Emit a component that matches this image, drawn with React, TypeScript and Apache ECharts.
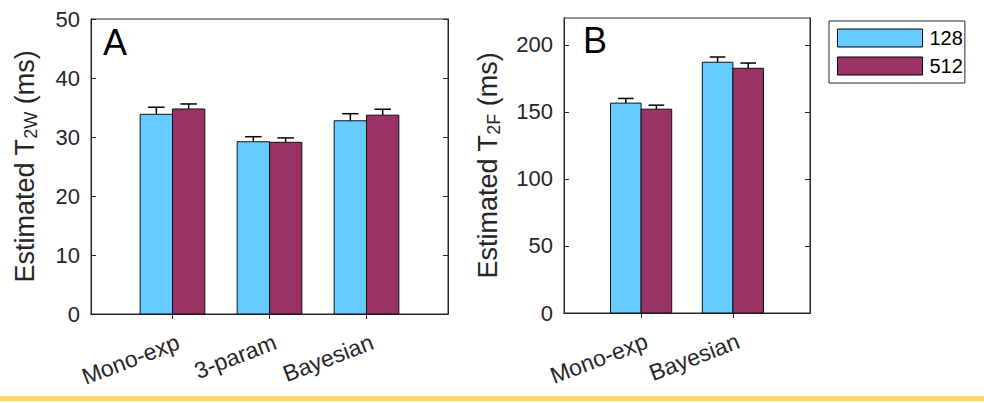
import React, { useEffect, useRef } from "react";
import * as echarts from "echarts";

const categoriesA = ["Mono-exp", "3-param", "Bayesian"];
const categoriesB = ["Mono-exp", "Bayesian"];
const seriesNames = ["128", "512"];
const a128 = [33.85, 29.2, 32.75];
const a128Err = [1.2, 0.85, 1.2];
const a512 = [34.75, 29.1, 33.7];
const a512Err = [0.85, 0.75, 1.0];
const b128 = [156.5, 187];
const b128Err = [3.5, 3.9];
const b512 = [152, 182.5];
const b512Err = [3.0, 3.9];
const yTicksA = [0, 10, 20, 30, 40, 50];
const yTicksB = [0, 50, 100, 150, 200];

const FONT = "Liberation Sans, Arial, Helvetica, sans-serif";
const AXIS = "#262626";
const COLORS = ["#66CCFF", "#993366"];

function makeRender(side: number, color: string) {
  return (params: any, api: any) => {
    const x = api.value(0);
    const v = api.value(1);
    const e = api.value(2);
    const x0 = side === 0 ? x - 1 / 3 : x;
    const x1 = side === 0 ? x : x + 1 / 3;
    const xm = (x0 + x1) / 2;
    const tl = api.coord([x0, v]);
    const br = api.coord([x1, 0]);
    const top = api.coord([xm, v + e]);
    const capL = api.coord([xm - 0.085, v + e]);
    const capR = api.coord([xm + 0.085, v + e]);
    return {
      type: "group",
      children: [
        {
          type: "line",
          shape: { x1: top[0], y1: tl[1], x2: top[0], y2: top[1] },
          style: { stroke: "#000", lineWidth: 1.5 },
        },
        {
          type: "line",
          shape: { x1: capL[0], y1: top[1], x2: capR[0], y2: top[1] },
          style: { stroke: "#000", lineWidth: 1.5 },
        },
        {
          type: "rect",
          shape: { x: tl[0], y: tl[1], width: br[0] - tl[0], height: br[1] - tl[1] },
          style: { fill: color, stroke: "#111", lineWidth: 1 },
        },
      ],
    };
  };
}

function xAxes(gridIndex: number, cats: string[]) {
  const max = cats.length + 0.84;
  const ticks = cats.map((_, i) => i + 1);
  const common = {
    type: "value",
    gridIndex,
    min: 0.16,
    max,
    splitLine: { show: false },
    axisLine: { show: true, lineStyle: { color: AXIS, width: 1 } },
    axisTick: { show: true, inside: true, length: 5, customValues: ticks, lineStyle: { color: AXIS } },
  };
  return [
    {
      ...common,
      position: "bottom",
      axisLabel: {
        show: true,
        customValues: ticks.map((t) => t + 0.06),
        formatter: (val: number) => cats[Math.round(val) - 1] ?? "",
        rotate: 21,
        margin: 27,
        fontSize: 23,
        color: AXIS,
        fontFamily: FONT,
      },
    },
    { ...common, position: "top", axisLabel: { show: false } },
  ];
}

function yAxes(gridIndex: number, max: number, ticks: number[], sub: string, gap: number) {
  const common = {
    type: "value",
    gridIndex,
    min: 0,
    max,
    splitLine: { show: false },
    axisLine: { show: true, lineStyle: { color: AXIS, width: 1 } },
    axisTick: { show: true, inside: true, length: 5, customValues: ticks, lineStyle: { color: AXIS } },
  };
  return [
    {
      ...common,
      position: "left",
      axisLabel: {
        show: true,
        customValues: ticks,
        margin: 11,
        fontSize: 22,
        color: AXIS,
        fontFamily: FONT,
      },
      name: `{n|Estimated T}{s|${sub}}{n| (ms)}`,
      nameLocation: "middle",
      nameRotate: 90,
      nameGap: gap,
      nameTextStyle: {
        rich: {
          n: { fontSize: 27, lineHeight: 30, color: AXIS, fontFamily: FONT },
          s: { fontSize: 18, lineHeight: 12, verticalAlign: "bottom", color: AXIS, fontFamily: FONT },
        },
      },
    },
    { ...common, position: "right", axisLabel: { show: false } },
  ];
}

function seriesFor(gridIdx: number, v128: number[], e128: number[], v512: number[], e512: number[]) {
  const xi = gridIdx * 2;
  const yi = gridIdx * 2;
  return [
    {
      type: "custom",
      name: seriesNames[0],
      xAxisIndex: xi,
      yAxisIndex: yi,
      itemStyle: { color: COLORS[0] },
      encode: { x: 0, y: 1 },
      data: v128.map((v, i) => [i + 1, v, e128[i]]),
      renderItem: makeRender(0, COLORS[0]),
      z: 3,
    },
    {
      type: "custom",
      name: seriesNames[1],
      xAxisIndex: xi,
      yAxisIndex: yi,
      itemStyle: { color: COLORS[1] },
      encode: { x: 0, y: 1 },
      data: v512.map((v, i) => [i + 1, v, e512[i]]),
      renderItem: makeRender(1, COLORS[1]),
      z: 3,
    },
  ];
}

export default function App() {
  const ref = useRef<HTMLDivElement>(null);
  useEffect(() => {
    document.body.style.margin = "0";
    if (!ref.current) return;
    const chart = echarts.init(ref.current, undefined, { renderer: "svg" });
    chart.setOption({
      animation: false,
      backgroundColor: "#fff",
      grid: [
        { left: 91, top: 19, width: 357, height: 295, show: true, borderColor: AXIS, borderWidth: 1, backgroundColor: "transparent" },
        { left: 564, top: 18, width: 246, height: 295, show: true, borderColor: AXIS, borderWidth: 1, backgroundColor: "transparent" },
      ],
      xAxis: [...xAxes(0, categoriesA), ...xAxes(1, categoriesB)],
      yAxis: [...yAxes(0, 50, yTicksA, "2W", 51), ...yAxes(1, 220, yTicksB, "2F", 61)],
      legend: {
        data: seriesNames,
        orient: "vertical",
        left: 829,
        top: 21,
        itemWidth: 85,
        itemHeight: 18,
        itemGap: 8,
        padding: [7, 2, 7, 8],
        borderColor: AXIS,
        borderWidth: 1,
        icon: "rect",
        itemStyle: { borderColor: "#000", borderWidth: 1 },
        textStyle: { fontSize: 20, color: "#000", fontFamily: FONT, padding: [0, 0, 0, 2] },
      },
      graphic: [
        { type: "text", left: 103, top: 24, style: { text: "A", fontSize: 36, fill: "#000", fontFamily: FONT } },
        { type: "text", left: 583, top: 22, style: { text: "B", fontSize: 36, fill: "#000", fontFamily: FONT } },
        { type: "rect", shape: { x: 0, y: 396, width: 984, height: 5 }, style: { fill: "#fdd36e" } },
      ],
      series: [...seriesFor(0, a128, a128Err, a512, a512Err), ...seriesFor(1, b128, b128Err, b512, b512Err)],
    });
    return () => chart.dispose();
  }, []);
  return <div ref={ref} style={{ width: 984, height: 403 }} />;
}
